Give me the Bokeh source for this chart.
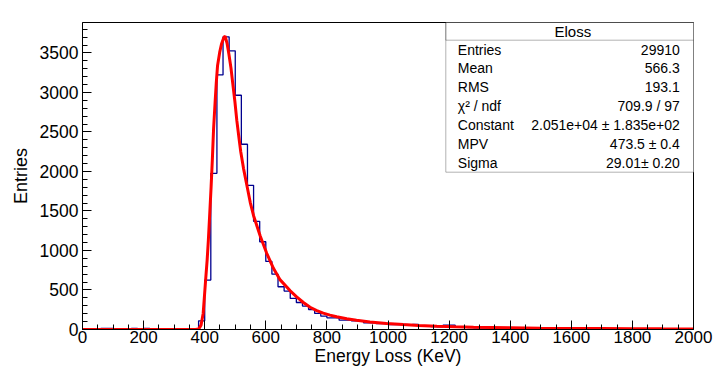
from bokeh.plotting import figure
from bokeh.models import SingleIntervalTicker, Label, BoxAnnotation, Range1d
from bokeh.embed import file_html
from bokeh.resources import INLINE

# ---------------- data ----------------
bin_width = 20
bin_low = list(range(0, 2000, 20))
counts = [
    0, 0, 0, 15, 15, 0, 0, 0, 15, 0,
    15, 0, 0, 0, 0, 0, 0, 0, 0, 110,
    625, 1977, 3223, 3705, 3528, 2965, 2345, 1825, 1369, 1111,
    862, 700, 541, 486, 393, 342, 296, 253, 203, 169,
    148, 148, 118, 118, 110, 110, 85, 85, 76, 76,
    63, 63, 63, 59, 63, 45, 42, 38, 35, 55,
    55, 30, 28, 25, 22, 21, 20, 19, 17, 17,
    16, 15, 14, 14, 13, 12, 12, 11, 11, 10,
    10, 10, 9, 9, 9, 8, 8, 8, 8, 7,
    7, 7, 7, 6, 6, 6, 6, 5, 5, 5,
]
fit_x = [0, 370, 380, 388, 395, 399, 403, 408, 412, 416, 421, 425, 429, 434, 438,
         442, 449, 455, 462, 467, 473, 479, 486, 492, 499, 505, 512, 518, 527, 538,
         549, 560, 571, 582, 603, 625, 647, 680, 701, 723, 745, 767, 788, 810, 832,
         865, 897, 941, 995, 1050, 1100, 1160, 1220, 1280, 1400, 1500, 1600, 1700,
         1800, 1900, 2000]
fit_y = [0, 0, 5, 55, 203, 414, 625, 879, 1132, 1428, 1809, 2147, 2535, 2873, 3127,
         3338, 3507, 3613, 3690, 3715, 3625, 3490, 3310, 3110, 2880, 2650, 2430, 2250, 2040, 1825,
         1610, 1440, 1310, 1180, 965, 775, 628, 490, 414, 342, 282, 240, 208, 182, 161,
         136, 117, 96, 77, 62, 51, 42, 35, 29, 22, 17, 14, 12,
         10, 8, 7]
x_ticks_interval = 200
y_ticks_interval = 500
stats_title = "Eloss"
stats_names = ["Entries", "Mean", "RMS", "\u03c7\u00b2 / ndf", "Constant", "MPV", "Sigma"]
stats_values = ["29910", "566.3", "193.1", "709.9 / 97",
                "2.051e+04 \u00b1 1.835e+02", "473.5 \u00b1 0.4", "29.01\u00b1 0.20"]
x_title = "Energy Loss (KeV)"
y_title = "Entries"

# stair outline of the histogram
hx, hy = [bin_low[0]], [0]
for lo, c in zip(bin_low, counts):
    hx += [lo, lo + bin_width]
    hy += [c, c]
hx.append(bin_low[-1] + bin_width)
hy.append(0)

FONT = "Liberation Sans"

p = figure(frame_width=611, frame_height=307,
           x_range=Range1d(0, 2000), y_range=Range1d(0, 3886),
           output_backend="svg", toolbar_location=None,
           min_border_left=82, min_border_right=24,
           min_border_top=22, min_border_bottom=46)
p.xgrid.visible = False
p.ygrid.visible = False
p.outline_line_color = "black"
p.outline_line_width = 1
p.outline_line_alpha = 1
p.background_fill_color = "white"
p.border_fill_color = "white"

p.xaxis.ticker = SingleIntervalTicker(interval=x_ticks_interval, num_minor_ticks=4)
p.yaxis.ticker = SingleIntervalTicker(interval=y_ticks_interval, num_minor_ticks=5)
for ax in (p.xaxis, p.yaxis):
    ax.major_tick_in = 9
    ax.major_tick_out = 0
    ax.minor_tick_in = 5
    ax.minor_tick_out = 0
    ax.axis_line_color = "black"
    ax.major_tick_line_color = "black"
    ax.minor_tick_line_color = "black"
    ax.major_label_text_font = FONT
    ax.major_label_text_color = "black"
    ax.axis_label_text_font = FONT
    ax.axis_label_text_font_style = "normal"
    ax.axis_label_text_color = "black"
p.xaxis.major_label_text_font_size = "17px"
p.yaxis.major_label_text_font_size = "17.5px"
p.xaxis.major_label_standoff = 1
p.yaxis.major_label_standoff = 4
p.xaxis.axis_label = x_title
p.yaxis.axis_label = y_title
p.xaxis.axis_label_text_font_size = "17.5px"
p.yaxis.axis_label_text_font_size = "18px"
p.xaxis.axis_label_standoff = 0
p.yaxis.axis_label_standoff = 6

p.line(hx, hy, line_color="#00008f", line_width=1.3)
p.line(fit_x, fit_y, line_color="#ff0000", line_width=3)

# stats box (frame-relative screen units, y up from frame bottom)
bx_l, bx_r, bx_t, bx_b = 363.3, 617.3, 307.3, 157.3
p.add_layout(BoxAnnotation(left=bx_l, right=bx_r, top=bx_t, bottom=bx_b,
                           left_units="screen", right_units="screen",
                           top_units="screen", bottom_units="screen",
                           fill_color="white", fill_alpha=1,
                           line_color="black", line_width=1))
row_h = 18.86
title_bottom = bx_t - 18.0
p.add_layout(BoxAnnotation(left=bx_l, right=bx_r, top=bx_t, bottom=title_bottom,
                           left_units="screen", right_units="screen",
                           top_units="screen", bottom_units="screen",
                           fill_alpha=0, line_color="black", line_width=1))
p.add_layout(Label(x=(bx_l + bx_r) / 2, y=(bx_t + title_bottom) / 2,
                   x_units="screen", y_units="screen", text=stats_title,
                   text_align="center", text_baseline="middle",
                   text_font=FONT, text_font_size="15px", text_color="black"))
for i, (nm, val) in enumerate(zip(stats_names, stats_values)):
    yc = title_bottom - row_h * (i + 0.5)
    p.add_layout(Label(x=bx_l + 12, y=yc, x_units="screen", y_units="screen", text=nm,
                       text_align="left", text_baseline="middle",
                       text_font=FONT, text_font_size="14px", text_color="black"))
    p.add_layout(Label(x=bx_r - 20, y=yc, x_units="screen", y_units="screen", text=val,
                       text_align="right", text_baseline="middle",
                       text_font=FONT, text_font_size="14px", text_color="black"))

open("out.html", "w").write(file_html(p, INLINE))
